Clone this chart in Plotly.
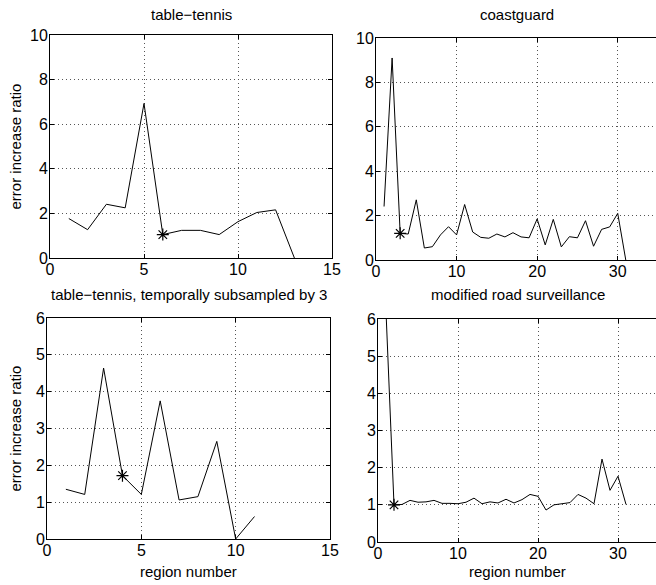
import plotly.graph_objects as go

# ---- data ----
tt_x = list(range(1, 14))
tt_y = [1.77, 1.27, 2.41, 2.25, 6.93, 1.05, 1.24, 1.24, 1.05, 1.63, 2.04, 2.16, 0.0]
tt_star = (6, 1.05)

cg_x = list(range(1, 32))
cg_y = [2.41, 9.1, 1.2, 1.17, 2.71, 0.54, 0.6, 1.13, 1.5, 1.13, 2.5, 1.26, 1.02, 0.98,
        1.17, 1.04, 1.23, 1.04, 1.0, 1.85, 0.68, 1.83, 0.59, 1.05, 1.0, 1.77, 0.62,
        1.38, 1.49, 2.1, 0.0]
cg_star = (3, 1.2)

tt3_x = list(range(1, 12))
tt3_y = [1.35, 1.21, 4.64, 1.72, 1.21, 3.75, 1.06, 1.15, 2.65, 0.0, 0.61]
tt3_star = (4, 1.72)

rs_x = list(range(1, 32))
rs_y = [6.2, 1.0, 1.01, 1.12, 1.07, 1.08, 1.12, 1.04, 1.04, 1.03, 1.07, 1.18, 1.03,
        1.08, 1.05, 1.15, 1.05, 1.14, 1.28, 1.23, 0.86, 1.0, 1.03, 1.06, 1.28, 1.18,
        1.03, 2.23, 1.39, 1.77, 1.01]
rs_star = (2, 1.0)

titles = ["table\u2212tennis", "coastguard",
          "table\u2212tennis, temporally subsampled by 3", "modified road surveillance"]
ylabel = "error increase ratio"
xlabel = "region number"

W, H = 656, 585
FONT = "Liberation Sans, Arial, Helvetica, sans-serif"

# panel boxes in pixels: (left, right, top, bottom)
boxes = [(50, 332, 35, 258), (376, 656, 38, 260), (47, 330, 318, 539), (378, 656, 319, 542)]
xranges = [[0, 15], [0, 34.75], [0, 15], [0, 34.75]]
yranges = [[0, 10], [0, 10], [0, 6], [0, 6]]
xticks = [[0, 5, 10, 15], [0, 10, 20, 30], [0, 5, 10, 15], [0, 10, 20, 30]]
yticks = [[0, 2, 4, 6, 8, 10], [0, 2, 4, 6, 8, 10], list(range(7)), list(range(7))]

series = [(tt_x, tt_y, tt_star), (cg_x, cg_y, cg_star),
          (tt3_x, tt3_y, tt3_star), (rs_x, rs_y, rs_star)]

fig = go.Figure()
layout = dict(width=W, height=H, margin=dict(l=0, r=0, t=0, b=0, autoexpand=False),
              paper_bgcolor="white", plot_bgcolor="white", showlegend=False,
              font=dict(family=FONT, color="black", size=15))
annotations = []

for i, ((l, r, t, b), (xs, ys, star)) in enumerate(zip(boxes, series)):
    n = "" if i == 0 else str(i + 1)
    xa, ya = "x" + n, "y" + n
    fig.add_trace(go.Scatter(x=xs, y=ys, mode="lines", line=dict(color="black", width=1),
                             xaxis=xa, yaxis=ya, hoverinfo="skip"))
    fig.add_trace(go.Scatter(x=[star[0]], y=[star[1]], mode="markers",
                             marker=dict(symbol="asterisk-open", size=10, color="black",
                                         line=dict(color="black", width=1.2)),
                             xaxis=xa, yaxis=ya, hoverinfo="skip"))
    common = dict(showline=True, linecolor="black", linewidth=1,
                  ticks="inside", ticklen=4, tickcolor="black",
                  showgrid=True, gridcolor="#555", griddash="1px,3px", gridwidth=1,
                  zeroline=False, tickfont=dict(family=FONT, size=16, color="black"),
                  fixedrange=True, automargin=False)
    layout["xaxis" + n] = dict(common, domain=[l / W, min(r / W, 1.0)],
                               range=xranges[i], tickvals=xticks[i],
                               anchor=ya, mirror="ticks", ticklabelstandoff=-3)
    layout["yaxis" + n] = dict(common, domain=[(H - b) / H, (H - t) / H],
                               range=yranges[i], tickvals=yticks[i],
                               anchor=xa, mirror=("ticks" if i % 2 == 0 else False),
                               ticklabelstandoff=-2)
    cx = (l + r) / 2 if i % 2 == 0 else (l + 657) / 2
    ty = 14 if i < 2 else 294
    annotations.append(dict(text=titles[i], x=cx / W, y=(H - ty) / H, xref="paper",
                            yref="paper", showarrow=False, xanchor="center",
                            yanchor="middle", font=dict(size=15)))
    if i % 2 == 0:
        annotations.append(dict(text=ylabel, x=15 / W, y=(H - (t + b) / 2) / H,
                                xref="paper", yref="paper", showarrow=False,
                                textangle=-90, xanchor="center", yanchor="middle",
                                font=dict(size=15)))
    if i >= 2:
        annotations.append(dict(text=xlabel, x=cx / W, y=(H - 571) / H,
                                xref="paper", yref="paper", showarrow=False,
                                xanchor="center", yanchor="middle",
                                font=dict(size=15)))

layout["annotations"] = annotations
fig.update_layout(**layout)
fig.write_html("out.html", config={"displayModeBar": False},
               post_script="document.body.style.margin='0';document.body.style.overflow='hidden';")
